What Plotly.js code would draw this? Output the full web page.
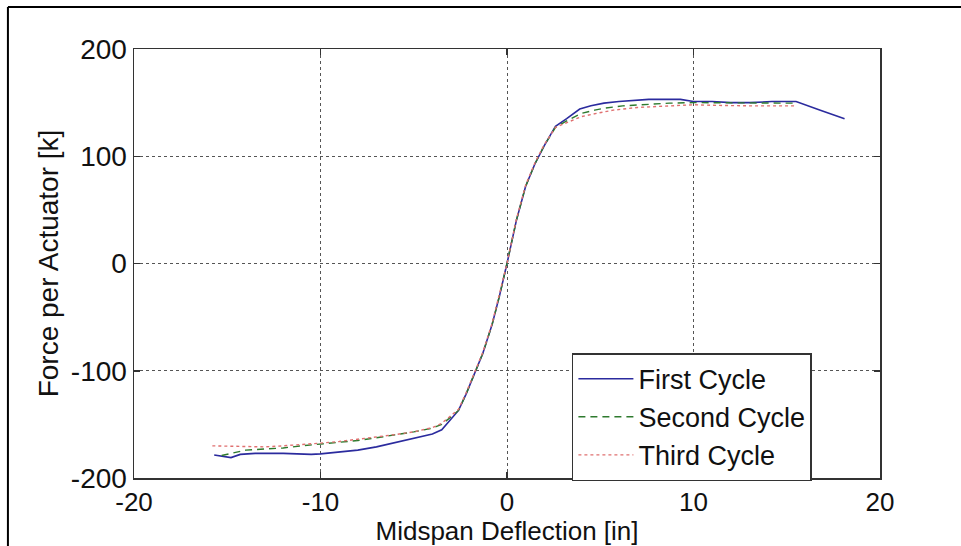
<!DOCTYPE html>
<html>
<head>
<meta charset="utf-8">
<script src="https://cdn.plot.ly/plotly-3.0.1.min.js"></script>
<style>
html,body{margin:0;padding:0;background:#fff;}
#chart{width:961px;height:546px;}
</style>
</head>
<body>
<div id="chart"></div>
<script>
// Data
var seriesNames = ['First Cycle', 'Second Cycle', 'Third Cycle'];

var firstX = [-15.7, -15.2, -14.8, -14.3, -13.5, -12, -10.5, -10, -9, -8, -7, -6, -5, -4, -3.5, -3, -2.6, -2.2, -1.8, -1.3, -0.8, -0.4, 0, 0.5, 1.0, 1.5, 2.0, 2.6, 3.2, 3.9, 4.5, 5.2, 6.0, 6.8, 7.6, 8.5, 9.3, 10, 11, 12, 13, 14.2, 15.5, 16.8, 18.1];
var firstY = [-178.5, -180, -181, -178, -177, -177, -178, -177.5, -176, -174, -171, -167, -163, -159, -155, -145, -137, -122, -105, -84, -57, -30, 0, 40, 72, 93, 110, 128, 135, 144, 147, 149.5, 151, 152, 153, 153, 153, 151, 151, 150, 150, 151, 151, 143, 135];

var secondX = [-15.3, -14.8, -14.0, -13.0, -12, -11, -10, -9, -8, -7, -6, -5, -4, -3.5, -3, -2.6, -2.2, -1.8, -1.3, -0.8, -0.4, 0, 0.5, 1.0, 1.5, 2.0, 2.6, 3.2, 4.0, 4.7, 5.3, 6.2, 7.0, 7.5, 8.7, 10, 11, 12, 13, 14, 15.5];
var secondY = [-179, -177, -174, -173, -172, -170, -168.5, -167, -165, -162.5, -160, -157, -153.5, -150, -143, -137, -122, -105, -84, -57, -30, 0, 40, 72, 93, 110, 127, 133, 140, 143, 145, 147, 148, 148.6, 149.5, 150, 150, 150, 150, 150, 149.5];

var thirdX = [-15.8, -14, -13, -12, -11, -10, -9, -8, -7, -6, -5, -4, -3.5, -3, -2.6, -2.2, -1.8, -1.3, -0.8, -0.4, 0, 0.5, 1.0, 1.5, 2.0, 2.6, 3.2, 4.0, 4.8, 5.7, 7.0, 8.5, 10, 11, 12, 13, 14, 15.5];
var thirdY = [-170, -170.5, -171, -170, -169, -167.5, -166, -164, -162, -159.5, -157, -153, -149, -142, -136, -121, -104, -83, -56, -29, 0, 41, 73, 94, 111, 127, 131, 137, 140, 143, 145.5, 147, 148, 147.5, 147, 147, 147, 147];

var xTicks = [-20, -10, 0, 10, 20];
var yTicks = [-200, -100, 0, 100, 200];

var FONT = 'Liberation Sans, Arial, sans-serif';

var traces = [
  {x: firstX, y: firstY, name: seriesNames[0], mode: 'lines', type: 'scatter',
   line: {color: '#2b2b9e', width: 1.6, dash: 'solid'}},
  {x: secondX, y: secondY, name: seriesNames[1], mode: 'lines', type: 'scatter',
   line: {color: '#2e7a2e', width: 1.4, dash: '7px,5px'}},
  {x: thirdX, y: thirdY, name: seriesNames[2], mode: 'lines', type: 'scatter',
   line: {color: '#e07070', width: 1.4, dash: 'dot'}}
];

var axisCommon = {
  showline: true, linecolor: '#333', linewidth: 1.5, mirror: 'ticks',
  ticks: 'inside', ticklen: 6, tickwidth: 1.5, tickcolor: '#333',
  showgrid: true, gridcolor: '#555', gridwidth: 1, griddash: 'dot',
  zeroline: false, tickfont: {family: FONT, size: 28, color: '#111'}
};

var layout = {
  width: 961, height: 546,
  margin: {l: 134, r: 81, t: 49, b: 68},
  paper_bgcolor: '#fff', plot_bgcolor: '#fff',
  showlegend: true,
  legend: {
    x: 0.587, y: 0.291, xanchor: 'left', yanchor: 'top',
    bgcolor: '#fff', bordercolor: '#333', borderwidth: 1.5,
    font: {family: FONT, size: 27, color: '#111'},
    itemwidth: 55,
    tracegroupgap: 0
  },
  xaxis: Object.assign({}, axisCommon, {
    range: [-20, 20], tickvals: xTicks, ticktext: xTicks.map(String),
    tickfont: {family: FONT, size: 26, color: '#111'},
    title: {text: 'Midspan Deflection [in]', font: {family: FONT, size: 26, color: '#111'}, standoff: 9}
  }),
  yaxis: Object.assign({}, axisCommon, {
    range: [-200, 200], tickvals: yTicks, ticktext: yTicks.map(String),
    title: {text: 'Force per Actuator [k]', font: {family: FONT, size: 28, color: '#111'}, standoff: 4}
  }),
  shapes: [
    {type: 'line', xref: 'paper', yref: 'paper', x0: -0.169, x1: 1.2, y0: 1.098, y1: 1.098,
     line: {color: '#000', width: 2}},
    {type: 'line', xref: 'paper', yref: 'paper', x0: -0.169, x1: -0.169, y0: 1.098, y1: -0.3,
     line: {color: '#000', width: 2}}
  ]
};

Plotly.newPlot('chart', traces, layout, {displayModeBar: false, staticPlot: true});
</script>
</body>
</html>
